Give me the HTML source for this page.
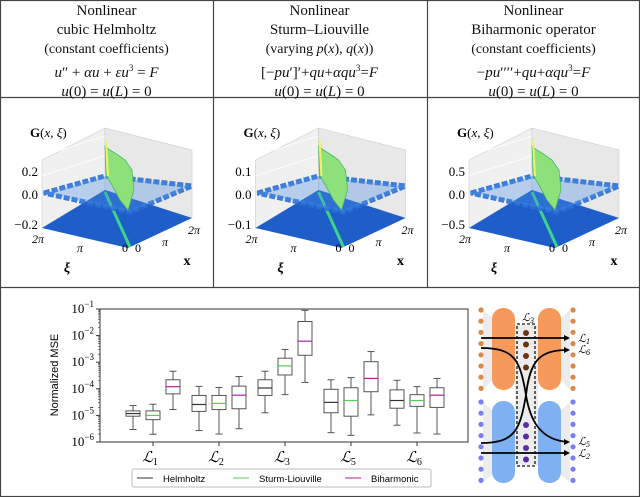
<!DOCTYPE html>
<html><head><meta charset="utf-8">
<style>
body{margin:0;background:#fff;width:640px;height:497px;overflow:hidden;font-family:"Liberation Serif",serif}
.hdr{position:absolute;top:2px;width:213px;text-align:center;font-size:15px;line-height:19px;color:#111}
.hdr i{font-style:italic}
</style></head><body>
<svg width="640" height="497" style="position:absolute;left:0;top:0">
<g stroke="#444" stroke-width="1.2" fill="none">
<rect x="0.5" y="0.5" width="639" height="496"/>
<line x1="0" y1="97.5" x2="640" y2="97.5"/>
<line x1="0" y1="287.5" x2="640" y2="287.5"/>
<line x1="213.5" y1="0" x2="213.5" y2="287"/>
<line x1="427.5" y1="0" x2="427.5" y2="287"/>
</g>
</svg>
<div class="hdr" style="left:0">Nonlinear<br>cubic Helmholtz<br><span style="font-size:14px">(constant coefficients)</span><br><i>u</i>″ + <i>αu</i> + <i>εu</i><sup style="font-size:9px">3</sup> = <i>F</i><br><i>u</i>(0) = <i>u</i>(<i>L</i>) = 0</div>
<div class="hdr" style="left:213px">Nonlinear<br>Sturm–Liouville<br><span style="font-size:14px">(varying <i>p</i>(<i>x</i>), <i>q</i>(<i>x</i>))</span><br>[−<i>pu</i>′]′+<i>qu</i>+<i>αqu</i><sup style="font-size:9px">3</sup>=<i>F</i><br><i>u</i>(0) = <i>u</i>(<i>L</i>) = 0</div>
<div class="hdr" style="left:427px">Nonlinear<br>Biharmonic operator<br><span style="font-size:14px">(constant coefficients)</span><br>−<i>pu</i>′′′′+<i>qu</i>+<i>αqu</i><sup style="font-size:9px">3</sup>=<i>F</i><br><i>u</i>(0) = <i>u</i>(<i>L</i>) = 0</div>

<svg id="p3d" width="640" height="497" style="position:absolute;left:0;top:0"></svg>
<svg id="box" width="640" height="497" style="position:absolute;left:0;top:0"></svg>

<svg width="640" height="497" style="position:absolute;left:0;top:0">
<g fill="#e4e4e4" opacity="0.7"><path d="M483 310 L492 318 L492 380 L483 390Z"/><path d="M570 310 L561 318 L561 380 L570 390Z"/><path d="M483 402 L492 410 L492 475 L483 482Z"/><path d="M570 402 L561 410 L561 475 L570 482Z"/><rect x="515" y="325" width="23" height="140"/></g>
<g>
<rect x="492" y="308" width="23" height="82" rx="11" fill="#f59a5a"/>
<rect x="538" y="308" width="23" height="82" rx="11" fill="#f59a5a"/>
<rect x="492" y="401" width="23" height="82" rx="11" fill="#7fb0f2"/>
<rect x="538" y="401" width="23" height="82" rx="11" fill="#7fb0f2"/>
</g>
<rect x="517" y="324" width="18" height="142" fill="none" stroke="#111" stroke-dasharray="3,2" stroke-width="1.3"/>
<g id="dots"></g>
<g stroke="#000" stroke-width="1.8" fill="none">
<line x1="481" y1="338" x2="568" y2="338"/>
<path d="M481 348 C515 348 520 360 526 395 C530 420 540 440 568 442"/>
<path d="M481 443 C515 443 520 430 526 395 C530 360 540 350 568 350"/>
<line x1="481" y1="453" x2="568" y2="453"/>
</g>
<g fill="#000"><path d="M570 338 l-6 -3 v6z"/><path d="M570 350 l-6 -3 v6z"/><path d="M570 442 l-6 -3 v6z"/><path d="M570 453 l-6 -3 v6z"/></g>
<g font-family="Liberation Serif,serif" font-style="italic" font-size="11">
<text x="522" y="321">ℒ<tspan font-size="8" dy="2">3</tspan></text>
<text x="578" y="342">ℒ<tspan font-size="8" dy="2">1</tspan></text>
<text x="578" y="353">ℒ<tspan font-size="8" dy="2">6</tspan></text>
<text x="578" y="445">ℒ<tspan font-size="8" dy="2">5</tspan></text>
<text x="578" y="457">ℒ<tspan font-size="8" dy="2">2</tspan></text>
</g>
</svg>

<script>
const NS='http://www.w3.org/2000/svg';
function mk(p,t,a){const e=document.createElementNS(NS,t);for(const k in a)e.setAttribute(k,a[k]);p.appendChild(e);return e;}
const dg=document.getElementById('dots');
for(let i=0;i<8;i++){mk(dg,'circle',{cx:481,cy:310+i*11.2,r:2.6,fill:'#d9894a'});mk(dg,'circle',{cx:573,cy:310+i*11.2,r:2.6,fill:'#d9894a'});
mk(dg,'circle',{cx:481,cy:402+i*11.2,r:2.6,fill:'#7b7ef0'});mk(dg,'circle',{cx:573,cy:402+i*11.2,r:2.6,fill:'#7b7ef0'});}
for(let i=0;i<4;i++){mk(dg,'circle',{cx:526,cy:333+i*11.5,r:3,fill:'#6b3410'});mk(dg,'circle',{cx:526,cy:425+i*11.5,r:3,fill:'#5a2ea0'});}

const p3=document.getElementById('p3d');
const zticks=[['0.2','0.0','−0.2'],['0.1','0.0','−0.1'],['0.5','0.0','−0.5']];
for(let k=0;k<3;k++){
 const g=mk(p3,'g',{transform:`translate(${k*213.5},0)`});
 
 
 mk(g,'path',{d:'M42 160 L105 128 L105 190 L42 228Z',fill:'#f0f0f0',stroke:'#ccc','stroke-width':0.6});
 mk(g,'path',{d:'M105 128 L192 150 L192 218 L105 190Z',fill:'#e8e8e8',stroke:'#ccc','stroke-width':0.6});
 for(const y of [0,22,44]){mk(g,'line',{x1:42,y1:176+y*0.9-20,x2:105,y2:146+y*0.9-10,stroke:'#fff','stroke-width':0.8});}
 mk(g,'path',{d:'M42 228 L105 190 L192 218 L128 248Z',fill:'#1f5ec9'});
 mk(g,'line',{x1:105,y1:192,x2:130,y2:247,stroke:'#3cd48a','stroke-width':3});
 mk(g,'path',{d:'M44 193 L105 176 L192 186 L130 212Z',fill:'none',stroke:'#2a6fd6','stroke-width':5,'stroke-dasharray':'6,2',opacity:0.9});
 mk(g,'path',{d:'M44 193 L105 176 L192 186 L130 212Z',fill:'#4a8ee6',opacity:0.35});
 mk(g,'path',{d:'M105 146 L110 150 L118 155 L125 160 L132 170 L134 190 L128 210 L120 200 L112 185 L106 175Z',fill:'#8ee07a',stroke:'#44bb66','stroke-width':0.8});
 mk(g,'line',{x1:106,y1:140,x2:108,y2:176,stroke:'#f2f26a','stroke-width':2});
 const ty=[172,195,225];
 for(let i=0;i<3;i++){const t=mk(g,'text',{x:38,y:ty[i]+4,'text-anchor':'end','font-size':13,'font-family':'Liberation Serif,serif'});t.textContent=zticks[k][i];}
 const lab=[['2π',38,243],['π',80,252],['0',125,252],['0',138,252],['π',165,246],['2π',194,234]];
 for(const l of lab){const t=mk(g,'text',{x:l[1],y:l[2],'text-anchor':'middle','font-size':12,'font-family':'Liberation Serif,serif','font-style':l[0]=='0'?'normal':'italic'});t.textContent=l[0];}
 let t=mk(g,'text',{x:67,y:272,'font-size':14,'font-weight':'bold','font-style':'italic','font-family':'Liberation Serif,serif','text-anchor':'middle'});t.textContent='ξ';
 t=mk(g,'text',{x:187,y:265,'font-size':14,'font-weight':'bold','font-family':'Liberation Serif,serif','text-anchor':'middle'});t.textContent='x';
 t=mk(g,'text',{x:30,y:137,'font-size':13,'font-family':'Liberation Serif,serif'});t.innerHTML='<tspan font-weight="bold">G</tspan>(<tspan font-style="italic">x</tspan>, <tspan font-style="italic">ξ</tspan>)';
}

const groups=['1','2','3','5','6'];
const seriesNames=['Helmholtz','Sturm-Liouville','Biharmonic'];
const seriesColors=['#333','#55cc55','#aa22aa'];
const helmholtz=[[-5.53,-5.03,-4.93,-4.83,-4.63],[-5.57,-4.85,-4.59,-4.25,-3.91],[-4.90,-4.25,-3.97,-3.66,-3.34],[-5.65,-4.90,-4.51,-4.02,-3.66],[-5.37,-4.73,-4.44,-4.04,-3.68]];
const sturm=[[-5.71,-5.16,-5.0,-4.83,-4.58],[-5.70,-4.78,-4.55,-4.25,-3.95],[-4.22,-3.48,-3.14,-2.85,-2.52],[-5.75,-5.03,-4.44,-3.96,-3.58],[-5.66,-4.66,-4.44,-4.22,-3.92]];
const biharm=[[-4.78,-4.19,-3.92,-3.66,-3.34],[-5.50,-4.75,-4.24,-3.90,-3.54],[-3.76,-2.74,-2.21,-1.47,-1.05],[-4.98,-4.11,-3.61,-2.98,-2.60],[-5.70,-4.70,-4.24,-3.96,-3.61]];
const yTicks=[-6,-5,-4,-3,-2,-1];

const bx=document.getElementById('box');
const X0=100,X1=468,Y0=309,Y1=442;
const yS=v=>Y1-(v+6)/5*(Y1-Y0);
const xS=i=>153+i*66;
mk(bx,'rect',{x:X0,y:Y0,width:X1-X0,height:Y1-Y0,fill:'none',stroke:'#333','stroke-width':1});
yTicks.forEach(v=>{const y=yS(v);mk(bx,'line',{x1:X0-4,y1:y,x2:X0,y2:y,stroke:'#333'});
 const t=mk(bx,'text',{x:X0-6,y:y+4,'text-anchor':'end','font-size':13,'font-family':'Liberation Serif,serif'});t.innerHTML='10<tspan font-size="9" dy="-6">'+(v<0?'−':'')+Math.abs(v)+'</tspan>';
 for(let m=2;m<10&&v<-1;m++){const yy=yS(v+Math.log10(m));mk(bx,'line',{x1:X0-2,y1:yy,x2:X0,y2:yy,stroke:'#333','stroke-width':0.6});}
});
const yl=mk(bx,'text',{x:0,y:0,transform:'translate(58,375) rotate(-90)','text-anchor':'middle','font-size':11,'font-family':'Liberation Sans,sans-serif'});yl.textContent='Normalized MSE';
groups.forEach((gname,i)=>{const x=xS(i);mk(bx,'line',{x1:x,y1:Y1,x2:x,y2:Y1+4,stroke:'#333'});
 const t=mk(bx,'text',{x:x-3,y:Y1+20,'text-anchor':'middle','font-size':15,'font-style':'italic','font-family':'Liberation Serif,serif'});t.innerHTML='ℒ<tspan font-size="10" dy="3" font-style="normal">'+gname+'</tspan>';});
[helmholtz,sturm,biharm].forEach((ser,s)=>{
 ser.forEach((d,i)=>{const cx=xS(i)+(s-1)*20,w=14;
  const g=mk(bx,'g',{});
  
  
  const st={stroke:'#555','stroke-width':1,fill:'none'};
  mk(g,'line',Object.assign({x1:cx,y1:yS(d[0]),x2:cx,y2:yS(d[1])},st));
  mk(g,'line',Object.assign({x1:cx,y1:yS(d[3]),x2:cx,y2:yS(d[4])},st));
  mk(g,'line',Object.assign({x1:cx-w/4,y1:yS(d[0]),x2:cx+w/4,y2:yS(d[0])},st));
  mk(g,'line',Object.assign({x1:cx-w/4,y1:yS(d[4]),x2:cx+w/4,y2:yS(d[4])},st));
  mk(g,'rect',Object.assign({x:cx-w/2,y:yS(d[3]),width:w,height:yS(d[1])-yS(d[3])},st));
  mk(g,'line',{x1:cx-w/2,y1:yS(d[2]),x2:cx+w/2,y2:yS(d[2]),stroke:seriesColors[s],'stroke-width':1.2});
 });
});
const lg=mk(bx,'g',{});


mk(lg,'rect',{x:132,y:469,width:299,height:18,fill:'#fff',stroke:'#bbb',rx:2});
const lx=[137,233,345];
seriesNames.forEach((n,s)=>{mk(lg,'line',{x1:lx[s],y1:478,x2:lx[s]+16,y2:478,stroke:seriesColors[s],'stroke-width':1});
 const t=mk(lg,'text',{x:lx[s]+26,y:482,'font-size':9.5,'font-family':'Liberation Sans,sans-serif'});t.textContent=n;});
</script>
</body></html>
